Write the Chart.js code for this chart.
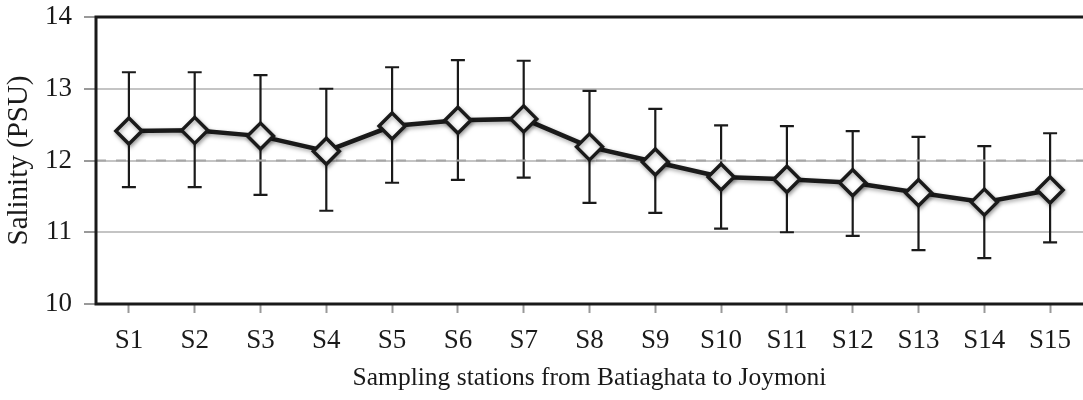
<!DOCTYPE html>
<html>
<head>
<meta charset="utf-8">
<script src="https://cdn.jsdelivr.net/npm/chart.js@4.4.1/dist/chart.umd.min.js"></script>
<style>
  body { margin: 0; background: #fff; }
  #wrap { width: 1083px; height: 400px; }
</style>
</head>
<body>
<div id="wrap"><canvas id="salinityChart" width="1083" height="400"></canvas></div>
<script>
// Stations and mean salinity with the top / bottom of each error bar
const stations = ['S1', 'S2', 'S3', 'S4', 'S5', 'S6', 'S7', 'S8', 'S9', 'S10', 'S11', 'S12', 'S13', 'S14', 'S15'];
const salinity = [12.41, 12.42, 12.34, 12.13, 12.48, 12.56, 12.58, 12.19, 11.98, 11.77, 11.74, 11.69, 11.55, 11.42, 11.59];
const upperBar = [13.23, 13.23, 13.19, 13.00, 13.30, 13.40, 13.39, 12.97, 12.72, 12.49, 12.48, 12.41, 12.33, 12.20, 12.38];
const lowerBar = [11.63, 11.63, 11.52, 11.30, 11.69, 11.73, 11.76, 11.41, 11.27, 11.05, 11.00, 10.95, 10.75, 10.64, 10.86];
const yTicks = [10, 11, 12, 13, 14];

const ink = '#1a1a1a';
const serif = "'Liberation Serif', 'Times New Roman', serif";

// error bars, drawn under the line and markers
const errorBars = {
    id: 'errorBars',
    beforeDatasetsDraw(chart) {
        const ctx = chart.ctx;
        const x = chart.scales.x, y = chart.scales.y;
        ctx.save();
        ctx.strokeStyle = ink;
        ctx.lineWidth = 2.2;
        stations.forEach((s, i) => {
            const px = x.getPixelForValue(i);
            const top = y.getPixelForValue(upperBar[i]);
            const bot = y.getPixelForValue(lowerBar[i]);
            ctx.beginPath();
            ctx.moveTo(px, top); ctx.lineTo(px, bot);
            ctx.moveTo(px - 7, top); ctx.lineTo(px + 7, top);
            ctx.moveTo(px - 7, bot); ctx.lineTo(px + 7, bot);
            ctx.stroke();
        });
        ctx.restore();
    }
};

// frame (left, top, bottom) and the dashed line over the 12 grid line
const frame = {
    id: 'frame',
    beforeDatasetsDraw(chart) {
        const ctx = chart.ctx;
        const a = chart.chartArea;
        const y = chart.scales.y;
        ctx.save();
        const y12 = y.getPixelForValue(12);
        ctx.strokeStyle = '#a6a6a6';
        ctx.lineWidth = 2;
        ctx.setLineDash([10, 10]);
        ctx.beginPath();
        ctx.moveTo(a.left, y12); ctx.lineTo(a.right, y12);
        ctx.stroke();
        ctx.setLineDash([]);
        ctx.strokeStyle = ink;
        ctx.lineWidth = 3;
        ctx.beginPath();
        ctx.moveTo(a.right + 2, a.top);
        ctx.lineTo(a.left, a.top);
        ctx.lineTo(a.left, a.bottom);
        ctx.lineTo(a.right + 2, a.bottom);
        ctx.stroke();
        ctx.restore();
    }
};

// soft drop shadow under line and markers
const shadow = {
    id: 'shadow',
    beforeDatasetDraw(chart) {
        const ctx = chart.ctx;
        ctx.save();
        ctx.shadowColor = 'rgba(0,0,0,0.35)';
        ctx.shadowBlur = 4;
        ctx.shadowOffsetX = 1;
        ctx.shadowOffsetY = 2;
    },
    afterDatasetDraw(chart) {
        chart.ctx.restore();
    }
};

const ctx = document.getElementById('salinityChart').getContext('2d');
const salinityChart = new Chart(ctx, {
    type: 'line',
    data: {
        labels: stations,
        datasets: [{
            label: 'Salinity',
            data: salinity,
            borderColor: ink,
            borderWidth: 4.5,
            pointStyle: 'rectRot',
            pointRadius: 13,
            pointBackgroundColor: '#ffffff',
            pointBorderColor: ink,
            pointBorderWidth: 3.5,
            tension: 0,
            clip: false
        }]
    },
    options: {
        responsive: false,
        animation: false,
        layout: { autoPadding: false, padding: { top: 17, right: 0, bottom: 0, left: 0 } },
        plugins: {
            legend: { display: false },
            tooltip: { enabled: false }
        },
        scales: {
            x: {
                type: 'category',
                offset: true,
                afterFit: s => { s.height = 96; s.paddingRight = 0; s.paddingLeft = 0; },
                border: { display: false },
                grid: {
                    drawOnChartArea: false,
                    drawTicks: true,
                    tickLength: 9,
                    tickColor: '#999999',
                    tickWidth: 2,
                    offset: false
                },
                ticks: {
                    color: ink,
                    padding: 12,
                    maxRotation: 0,
                    autoSkip: false,
                    font: { family: serif, size: 27 }
                },
                title: {
                    display: true,
                    text: 'Sampling stations from Batiaghata to Joymoni',
                    color: ink,
                    padding: { top: 0, bottom: 6 },
                    font: { family: serif, size: 25.5 }
                }
            },
            y: {
                min: 10,
                max: 14,
                afterFit: s => { s.width = 96; s.paddingTop = 0; s.paddingBottom = 0; },
                afterBuildTicks: s => { s.ticks = yTicks.map(v => ({ value: v })); },
                border: { display: false },
                grid: {
                    color: '#c4c4c4',
                    lineWidth: 2,
                    tickLength: 12,
                    tickColor: '#999999',
                    tickWidth: 2
                },
                ticks: {
                    color: ink,
                    padding: 12,
                    font: { family: serif, size: 27 }
                },
                title: {
                    display: true,
                    text: 'Salinity (PSU)',
                    color: ink,
                    padding: { top: 2, bottom: 0 },
                    font: { family: serif, size: 29 }
                }
            }
        }
    },
    plugins: [errorBars, frame, shadow]
});
</script>
</body>
</html>
